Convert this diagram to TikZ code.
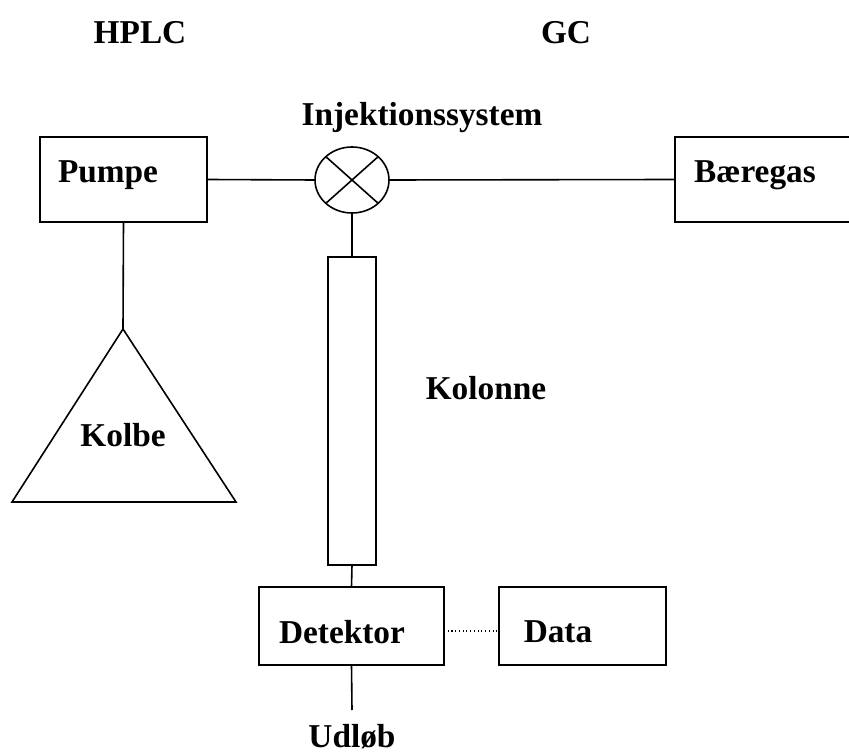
\documentclass[tikz,border=0pt]{standalone}
\usepackage{fontspec}
\setmainfont{Liberation Serif}
\usetikzlibrary{shapes.geometric}

\begin{document}
\begin{tikzpicture}[x=0.75pt,y=-0.75pt,line width=1.2pt,
  box/.style={draw,inner sep=0pt,outer sep=0pt},
  lbl/.style={font=\fontsize{25}{30}\selectfont\bfseries,inner sep=0pt}]

\useasboundingbox (0,0) rectangle (849,755);

% apparatus
\node[box,minimum width=125.25pt,minimum height=63.75pt] (pumpe) at (123.5,179.5) {};
\node[box,ellipse,minimum width=55.5pt,minimum height=49.5pt] (inj) at (352,180) {};
\node[box,minimum width=132pt,minimum height=63.75pt] (baer) at (763,179.5) {};
\node[box,minimum width=36pt,minimum height=231pt] (kol) at (352,411) {};
\node[box,minimum width=138.75pt,minimum height=58.5pt] (det) at (351.5,626) {};
\node[box,minimum width=125.25pt,minimum height=58.5pt] (data) at (582.5,626) {};

\draw (inj.north west) -- (inj.south east);
\draw (inj.north east) -- (inj.south west);

\coordinate (kolbe) at (123,329);
\draw (kolbe) -- (12,502) -- (236,502) -- cycle;
\coordinate (udl) at (352,710);

% connectors
\draw (pumpe.east) -- (inj.west);
\draw (inj.east) -- (baer.west);
\draw (inj.south) -- (kol.north);
\draw (kol.south) -- (det.north);
\draw (pumpe.south) -- (kolbe);
\draw (det.south) -- (udl);
\draw[dotted,line width=0.8pt] ([yshift=-3.75pt]det.east) -- ([yshift=-3.75pt]data.west);

% texts
\node[lbl] (hplc) at (140,33) {HPLC};
\node[lbl] (gc) at (566,33) {GC};
\node[lbl] (injtxt) at (422,118) {Injektionssystem};
\node[lbl] (pumptxt) at (108,175) {Pumpe};
\node[lbl] (baertxt) at (755,175) {Bæregas};
\node[lbl] (koltxt) at (486,388) {Kolonne};
\node[lbl] (kolbetxt) at (123,435) {Kolbe};
\node[lbl] (dettxt) at (342,632) {Detektor};
\node[lbl] (datatxt) at (558,632) {Data};
\node[lbl] (udltxt) at (352,737) {Udløb};

\end{tikzpicture}
\end{document}
